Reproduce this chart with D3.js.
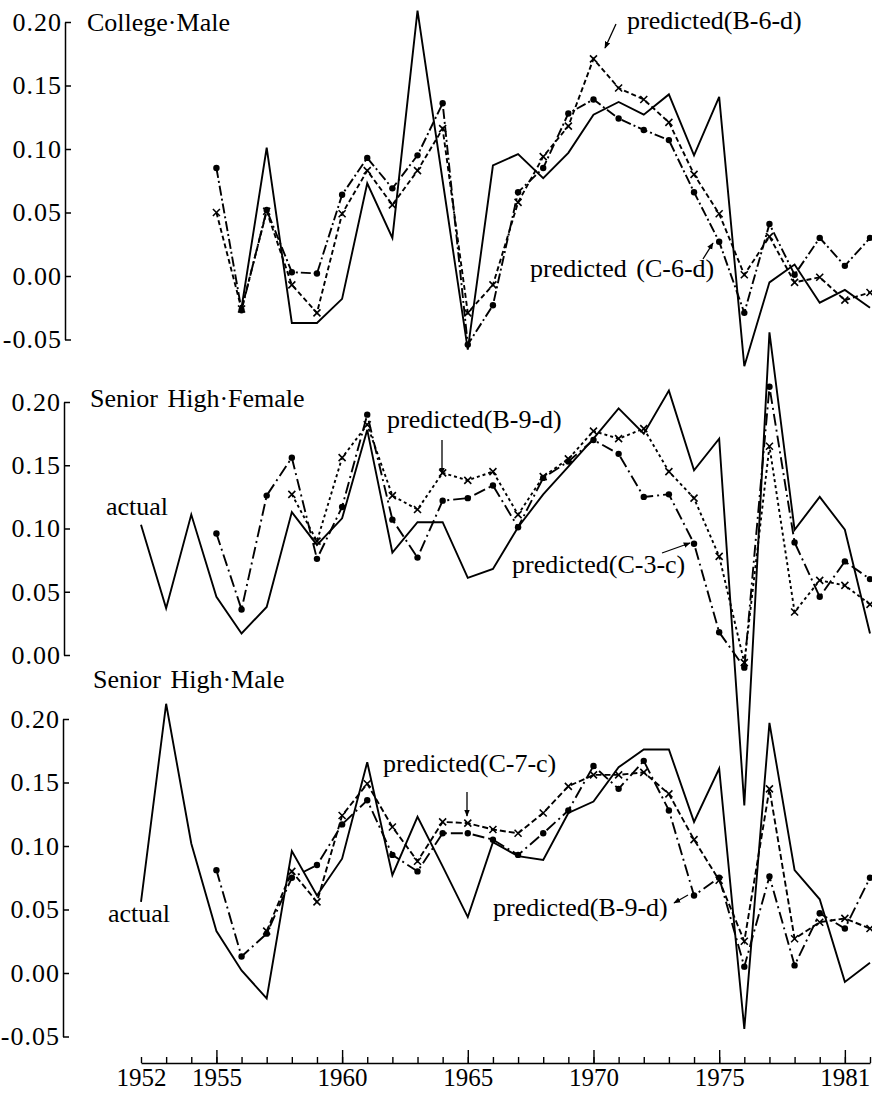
<!DOCTYPE html>
<html>
<head>
<meta charset="utf-8">
<script src="https://cdn.jsdelivr.net/npm/d3@7"></script>
<style>
  body { margin: 0; background: #fff; }
  text { font-family: 'Liberation Serif', 'Times New Roman', serif; fill: #000; }
</style>
</head>
<body>
<div id="chart"></div>
<script>
const years = [1952, 1953, 1954, 1955, 1956, 1957, 1958, 1959, 1960, 1961,
    1962, 1963, 1964, 1965, 1966, 1967, 1968, 1969, 1970, 1971,
    1972, 1973, 1974, 1975, 1976, 1977, 1978, 1979, 1980, 1981];

// College · Male
const collegeActual = [null, null, null, null, -0.025, 0.101, -0.037, -0.037, -0.018, 0.073,
    0.030, 0.209, 0.075, -0.058, 0.087, 0.096, 0.077, 0.097, 0.127, 0.137,
    0.127, 0.143, 0.095, 0.141, -0.071, -0.005, 0.009, -0.021, -0.011, -0.025];
const collegeB6d = [null, null, null, 0.050, -0.026, 0.051, -0.007, -0.029, 0.049, 0.083,
    0.056, 0.083, 0.116, -0.029, -0.007, 0.058, 0.094, 0.118, 0.171, 0.148,
    0.139, 0.121, 0.080, 0.049, 0.001, 0.031, -0.005, -0.001, -0.019, -0.013];
const collegeC6d = [null, null, null, 0.085, -0.027, 0.052, 0.003, 0.002, 0.064, 0.093,
    0.069, 0.095, 0.136, -0.054, -0.023, 0.066, 0.085, 0.128, 0.139, 0.124,
    0.115, 0.107, 0.066, 0.027, -0.029, 0.041, 0.001, 0.030, 0.008, 0.030];

// Senior High · Female
const femaleActual = [0.103, 0.037, 0.111, 0.046, 0.017, 0.038, 0.113, 0.087, 0.108, 0.178,
    0.081, 0.105, 0.105, 0.061, 0.068, 0.101, 0.127, 0.149, 0.171, 0.195,
    0.175, 0.209, 0.146, 0.171, -0.119, 0.255, 0.099, 0.125, 0.099, 0.017];
const femaleB9d = [null, null, null, null, null, null, 0.127, 0.090, 0.156, 0.182,
    0.126, 0.115, 0.144, 0.138, 0.145, 0.111, 0.141, 0.155, 0.177, 0.171,
    0.179, 0.145, 0.124, 0.078, -0.006, 0.165, 0.034, 0.059, 0.055, 0.040];
const femaleC3c = [null, null, null, 0.096, 0.036, 0.126, 0.156, 0.076, 0.117, 0.190,
    0.107, 0.077, 0.122, 0.124, 0.134, 0.101, 0.140, 0.153, 0.170, 0.159,
    0.125, 0.127, 0.088, 0.018, -0.010, 0.212, 0.089, 0.046, 0.074, 0.060];

// Senior High · Male
const maleActual = [0.056, 0.212, 0.102, 0.033, 0.002, -0.020, 0.096, 0.061, 0.090, 0.166,
    0.077, 0.123, 0.084, 0.044, 0.103, 0.092, 0.089, 0.126, 0.135, 0.162,
    0.176, 0.176, 0.119, 0.161, -0.044, 0.197, 0.081, 0.058, -0.007, 0.008];
const maleC7c = [null, null, null, null, null, 0.033, 0.080, 0.056, 0.124, 0.149,
    0.115, 0.088, 0.119, 0.118, 0.113, 0.110, 0.126, 0.147, 0.156, 0.156,
    0.158, 0.141, 0.105, 0.073, 0.025, 0.145, 0.027, 0.040, 0.043, 0.035];
const maleB9d = [null, null, null, 0.081, 0.013, 0.031, 0.075, 0.085, 0.117, 0.136,
    0.093, 0.080, 0.110, 0.110, 0.105, 0.093, 0.110, 0.128, 0.163, 0.145,
    0.167, 0.128, 0.061, 0.075, 0.005, 0.076, 0.006, 0.047, 0.035, 0.075];

const yTicksFull = [-0.05, 0, 0.05, 0.10, 0.15, 0.20];
const yTicksPos = [0, 0.05, 0.10, 0.15, 0.20];
const majorYears = [1955, 1960, 1965, 1970, 1975, 1980];
const labelYears = [1952, 1955, 1960, 1965, 1970, 1975, 1980];
const yearLabels = ['1952', '1955', '1960', '1965', '1970', '1975', '1981'];

const width = 872;
const height = 1093;

const svg = d3.select('#chart')
    .append('svg')
    .attr('width', width)
    .attr('height', height);

const defs = svg.append('defs');
defs.append('marker')
    .attr('id', 'arrow')
    .attr('viewBox', '0 0 10 10')
    .attr('refX', 9).attr('refY', 5)
    .attr('markerWidth', 7).attr('markerHeight', 7)
    .attr('markerUnits', 'userSpaceOnUse')
    .attr('orient', 'auto')
    .append('path')
    .attr('d', 'M0,1L10,5L0,9Z')
    .attr('fill', '#000');

const xScale = d3.scaleLinear()
    .domain([1952, 1981])
    .range([141, 870]);

const dashShort = '5,3';
const dashDot = '10,3,2,3';
const dashLongDot = '12,4,2,4';

const panels = [
    {
        top: 22, bottom: 339.5, domain: [-0.05, 0.20], ticks: yTicksFull, axisX: 65,
        series: [
            { values: collegeActual, dash: null, marker: null },
            { values: collegeB6d, dash: dashShort, marker: 'x' },
            { values: collegeC6d, dash: dashDot, marker: 'dot' }
        ],
        labels: [
            { text: 'College·Male', x: 87, y: 31 },
            { text: 'predicted(B-6-d)', x: 627, y: 29 },
            { text: 'predicted (C-6-d)', x: 530, y: 277 }
        ],
        arrows: [[616, 24, 605, 48], [703, 259, 713, 243]]
    },
    {
        top: 402, bottom: 655, domain: [0, 0.20], ticks: yTicksPos, axisX: 64,
        series: [
            { values: femaleActual, dash: null, marker: null },
            { values: femaleB9d, dash: '3,3', marker: 'x' },
            { values: femaleC3c, dash: dashLongDot, marker: 'dot' }
        ],
        labels: [
            { text: 'Senior High·Female', x: 90, y: 407 },
            { text: 'actual', x: 106, y: 515 },
            { text: 'predicted(B-9-d)', x: 387, y: 428 },
            { text: 'predicted(C-3-c)', x: 512, y: 573 }
        ],
        arrows: [[442, 440, 442, 474], [662, 553, 690, 543]]
    },
    {
        top: 719, bottom: 1036.5, domain: [-0.05, 0.20], ticks: yTicksFull, axisX: 63,
        series: [
            { values: maleActual, dash: null, marker: null },
            { values: maleC7c, dash: '6,3', marker: 'x' },
            { values: maleB9d, dash: dashLongDot, marker: 'dot' }
        ],
        labels: [
            { text: 'Senior High·Male', x: 93, y: 688 },
            { text: 'actual', x: 108, y: 922 },
            { text: 'predicted(C-7-c)', x: 383, y: 772 },
            { text: 'predicted(B-9-d)', x: 493, y: 916 }
        ],
        arrows: [[467, 792, 467, 816], [688, 895, 674, 903]]
    }
];

panels.forEach((p) => {
    const yScale = d3.scaleLinear()
        .domain(p.domain)
        .range([p.bottom, p.top]);

    // y axis: ticks point into the plot, labels on the left
    const yAxis = d3.axisLeft(yScale)
        .tickValues(p.ticks)
        .tickSize(-6)
        .tickSizeOuter(0)
        .tickPadding(3)
        .tickFormat((d) => d.toFixed(2));

    const gy = svg.append('g')
        .attr('transform', `translate(${p.axisX}, 0)`)
        .call(yAxis);
    gy.select('.domain').attr('stroke-width', 1.5);
    gy.selectAll('.tick line').attr('stroke-width', 1.5);
    gy.selectAll('.tick text')
        .attr('font-size', 26)
        .attr('letter-spacing', 1)
        .attr('font-family', "'Liberation Serif', serif");

    const line = d3.line()
        .defined((d) => d != null)
        .x((d, i) => xScale(years[i]))
        .y((d) => yScale(d));

    p.series.forEach((s) => {
        svg.append('path')
            .datum(s.values)
            .attr('d', line)
            .attr('fill', 'none')
            .attr('stroke', '#000')
            .attr('stroke-width', 1.9)
            .attr('stroke-dasharray', s.dash);

        const pts = s.values
            .map((v, i) => ({ year: years[i], v }))
            .filter((d) => d.v != null);

        if (s.marker === 'dot') {
            svg.append('g').selectAll('circle')
                .data(pts)
                .enter()
                .append('circle')
                .attr('cx', (d) => xScale(d.year))
                .attr('cy', (d) => yScale(d.v))
                .attr('r', 3.2)
                .attr('fill', '#000');
        } else if (s.marker === 'x') {
            svg.append('g').selectAll('path')
                .data(pts)
                .enter()
                .append('path')
                .attr('transform', (d) => `translate(${xScale(d.year)}, ${yScale(d.v)})`)
                .attr('d', 'M-3.5,-3.5L3.5,3.5M-3.5,3.5L3.5,-3.5')
                .attr('stroke', '#000')
                .attr('stroke-width', 1.6);
        }
    });

    svg.append('g').selectAll('text')
        .data(p.labels)
        .enter()
        .append('text')
        .text((d) => d.text)
        .attr('x', (d) => d.x)
        .attr('y', (d) => d.y)
        .attr('font-size', 26)
        .attr('word-spacing', 3);

    svg.append('g').selectAll('line')
        .data(p.arrows)
        .enter()
        .append('line')
        .attr('x1', (d) => d[0]).attr('y1', (d) => d[1])
        .attr('x2', (d) => d[2]).attr('y2', (d) => d[3])
        .attr('stroke', '#000')
        .attr('stroke-width', 1.3)
        .attr('marker-end', 'url(#arrow)');
});

// x axis at the bottom, ticks upward
const axisY = 1063;

const minorAxis = d3.axisBottom(xScale)
    .tickValues(years)
    .tickSize(-6)
    .tickSizeOuter(0)
    .tickFormat('');
const gMinor = svg.append('g')
    .attr('transform', `translate(0, ${axisY})`)
    .call(minorAxis);
gMinor.select('.domain').attr('stroke-width', 1.6);
gMinor.selectAll('.tick line').attr('stroke-width', 1.4);

const majorAxis = d3.axisBottom(xScale)
    .tickValues(majorYears)
    .tickSize(-13)
    .tickSizeOuter(0)
    .tickFormat('');
const gMajor = svg.append('g')
    .attr('transform', `translate(0, ${axisY})`)
    .call(majorAxis);
gMajor.select('.domain').remove();
gMajor.selectAll('.tick line').attr('stroke-width', 1.4);

const labelAxis = d3.axisBottom(xScale)
    .tickValues(labelYears)
    .tickSize(0)
    .tickPadding(5)
    .tickFormat((d, i) => yearLabels[i]);
const gLabel = svg.append('g')
    .attr('transform', `translate(0, ${axisY})`)
    .call(labelAxis);
gLabel.select('.domain').remove();
gLabel.selectAll('.tick text')
    .attr('font-size', 25)
    .attr('font-family', "'Liberation Serif', serif");
</script>
</body>
</html>
